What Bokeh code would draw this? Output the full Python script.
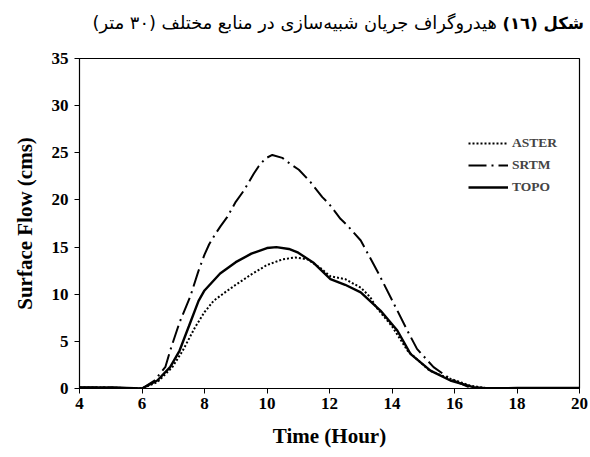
from bokeh.plotting import figure
from bokeh.models import Legend, LegendItem, Range1d, FixedTicker, Div
from bokeh.layouts import column
from bokeh.embed import file_html
from bokeh.resources import INLINE

# Simulated hydrographs (surface flow, cms) for three elevation sources
aster_t = [4.0, 5.0, 5.5, 6.0, 6.5, 6.97, 7.3, 7.7, 8.0, 8.29, 8.7, 9.0, 9.5, 10.0, 10.5,
           10.9, 11.3, 11.7, 12.03, 12.5, 13.0, 13.3, 13.5, 14.0, 14.5, 15.2, 15.65,
           15.9, 16.5, 17.0, 18.0, 20.0]
aster_q = [0.1, 0.1, 0.05, 0.0, 0.7, 2.26, 4.0, 6.5, 8.1, 9.3, 10.3, 11.0, 12.1, 13.1, 13.7,
           13.9, 13.7, 12.8, 11.9, 11.6, 10.7, 9.7, 8.6, 6.6, 4.0, 1.9, 1.3,
           1.0, 0.3, 0.05, 0.05, 0.05]

srtm_t = [4.0, 5.0, 5.5, 6.0, 6.4, 6.75, 6.9, 7.2, 7.55, 7.8, 8.0, 8.15, 8.35, 8.51, 8.73,
          9.0, 9.26, 9.42, 9.58, 9.74, 9.95, 10.17, 10.49, 10.75, 11.02, 11.39, 11.77,
          11.98, 12.35, 12.57, 13.0, 13.26, 13.57, 14.17, 14.49, 14.8, 15.33, 15.87,
          16.5, 17.0, 18.0, 20.0]
srtm_q = [0.1, 0.1, 0.05, 0.0, 0.85, 2.3, 4.0, 7.0, 9.8, 12.4, 14.2, 15.3, 16.4, 17.2, 18.2,
          19.8, 21.0, 21.9, 22.8, 23.6, 24.4, 24.77, 24.46, 23.8, 23.2, 21.9, 20.3,
          19.6, 18.0, 17.3, 15.7, 14.1, 12.2, 8.27, 6.15, 4.2, 2.26, 1.0,
          0.1, 0.0, 0.0, 0.0]

topo_t = [4.0, 5.0, 5.5, 6.0, 6.49, 6.9, 7.2, 7.5, 7.81, 8.0, 8.5, 9.0, 9.5, 10.0, 10.3,
          10.7, 11.0, 11.5, 12.03, 12.5, 13.0, 13.63, 14.17, 14.59, 15.23, 15.87,
          16.6, 17.0, 18.0, 20.0]
topo_q = [0.1, 0.1, 0.05, 0.0, 0.85, 2.26, 4.0, 6.6, 9.3, 10.4, 12.2, 13.4, 14.3, 14.9, 15.0,
          14.8, 14.4, 13.3, 11.6, 11.0, 10.2, 8.27, 6.15, 3.68, 1.9, 0.85,
          0.14, 0.02, 0.05, 0.05]

x_ticks = [4, 6, 8, 10, 12, 14, 16, 18, 20]
y_ticks = [0, 5, 10, 15, 20, 25, 30, 35]

title_bold = "شکل (١٦)"
title_rest = "هیدروگراف جریان شبیه‌سازی در منابع مختلف (٣٠ متر)"

SERIF = "Liberation Serif"

# Caption line above the chart (right-to-left, bold figure number)
caption = Div(
    text=(f'<span style="font-weight:bold;font-size:16.5px">{title_bold}</span> '
          f'{title_rest}'),
    width=590, height=40, margin=(0, 0, 0, 0),
    styles={"direction": "rtl", "text-align": "right", "font-family": "DejaVu Sans",
            "font-size": "17.8px", "color": "black", "padding-right": "6px",
            "padding-top": "10px", "box-sizing": "border-box", "width": "590px",
            "white-space": "nowrap"})

p = figure(width=590, height=417, output_backend="svg", toolbar_location=None,
           x_range=Range1d(4, 20), y_range=Range1d(0, 35),
           min_border_left=79, min_border_right=11, min_border_top=18,
           min_border_bottom=69, margin=(0, 0, 0, 0))

p.xgrid.visible = False
p.ygrid.visible = False
p.outline_line_color = "black"
p.outline_line_width = 1.2
p.background_fill_color = "white"
p.border_fill_color = "white"

for ax, ticks in ((p.xaxis[0], x_ticks), (p.yaxis[0], y_ticks)):
    ax.ticker = FixedTicker(ticks=ticks)
    ax.minor_tick_line_color = None
    ax.major_tick_in = 0
    ax.major_tick_out = 5
    ax.major_tick_line_color = "black"
    ax.axis_line_color = "black"
    ax.major_label_text_font = SERIF
    ax.major_label_text_font_style = "bold"
    ax.major_label_text_font_size = "17px"
    ax.major_label_text_color = "black"
    ax.axis_label_text_font = SERIF
    ax.axis_label_text_font_style = "bold"
    ax.axis_label_text_font_size = "21px"
    ax.axis_label_text_color = "black"

p.xaxis.axis_label = "Time (Hour)"
p.yaxis.axis_label = "Surface Flow (cms)"
p.xaxis.major_label_standoff = 4
p.yaxis.major_label_standoff = 6
p.xaxis.axis_label_standoff = 12
p.yaxis.axis_label_standoff = 12

r_aster = p.line(aster_t, aster_q, line_color="black", line_width=2, line_dash="2 2")
r_srtm = p.line(srtm_t, srtm_q, line_color="black", line_width=2, line_dash="18 5 2 5")
r_topo = p.line(topo_t, topo_q, line_color="black", line_width=2.4)

legend = Legend(items=[LegendItem(label="ASTER", renderers=[r_aster]),
                       LegendItem(label="SRTM", renderers=[r_srtm]),
                       LegendItem(label="TOPO", renderers=[r_topo])],
                location=(389, 192), border_line_color=None,
                background_fill_alpha=0, padding=0, spacing=4,
                glyph_width=40, glyph_height=18, label_height=18,
                label_standoff=4, label_text_font=SERIF,
                label_text_font_style="bold", label_text_font_size="13.5px")
p.add_layout(legend, "center")

layout = column(caption, p, spacing=0, margin=(0, 0, 0, 0))
open("out.html", "w").write(file_html(layout, INLINE))
